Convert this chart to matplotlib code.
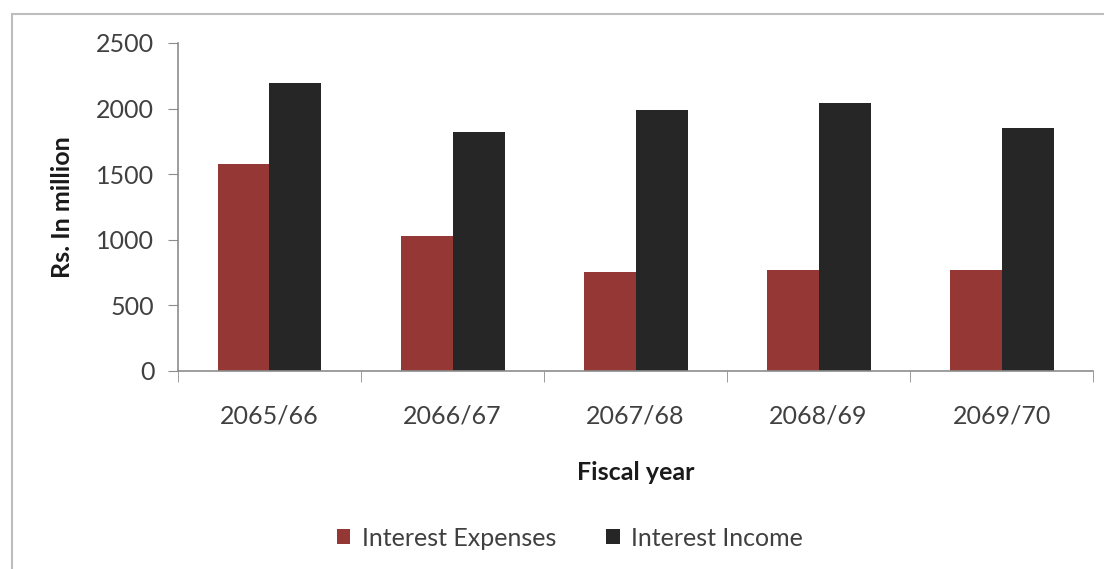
import numpy as np
import matplotlib.pyplot as plt
from matplotlib.patches import Rectangle

plt.rcParams['font.family'] = ['Lato', 'DejaVu Sans']

years = ['2065/66', '2066/67', '2067/68', '2068/69', '2069/70']
expenses = [1580, 1025, 755, 770, 770]
income = [2195, 1820, 1990, 2045, 1850]

red = '#953735'
dark = '#262626'
axis_col = '#8c8c8c'
text_col = '#404040'

fig = plt.figure(figsize=(11.04, 5.69), dpi=100)
ax = fig.add_axes([0.1612, 0.348, 0.829, 0.5766])

# chart frame (only the top and left edges fall inside the image)
fig.patches.append(Rectangle((12 / 1104, -0.1), 1.2, 1 - 14 / 569 + 0.1,
                             transform=fig.transFigure, fill=False,
                             edgecolor='#bdbdbd', linewidth=1.5))

x = np.arange(len(years))
w = 0.284
ax.bar(x - w / 2, expenses, w, color=red, label='Interest Expenses')
ax.bar(x + w / 2, income, w, color=dark, label='Interest Income')

ax.set_xlim(-0.5, len(years) - 0.5)
ax.set_ylim(0, 2500)
ax.set_yticks(np.arange(0, 2501, 500))
ax.set_xticks(x)
ax.set_xticklabels(years)
ax.set_xticks(np.arange(-0.5, len(years)), minor=True)
ax.tick_params(axis='x', which='major', length=0, pad=24, labelsize=18,
               labelcolor=text_col)
ax.tick_params(axis='x', which='minor', length=8, color=axis_col, direction='out')
ax.tick_params(axis='y', length=7, color=axis_col, direction='out', pad=10,
               labelsize=18, labelcolor=text_col)

for s in ('top', 'right'):
    ax.spines[s].set_visible(False)
for s in ('left', 'bottom'):
    ax.spines[s].set_color(axis_col)
    ax.spines[s].set_linewidth(1.2)

ax.set_ylabel('Rs. In million', fontsize=18, fontweight='bold', color='#1a1a1a',
              labelpad=16)
ax.set_xlabel('Fiscal year', fontsize=18, fontweight='bold', color='#1a1a1a',
              labelpad=24)

fig.legend(loc='center', bbox_to_anchor=(0.516, 0.054), ncol=2, frameon=False,
           fontsize=18, handlelength=0.55, handleheight=0.55, handletextpad=0.45,
           columnspacing=2.0, labelcolor=text_col)

fig.savefig('out.png', dpi=100)
